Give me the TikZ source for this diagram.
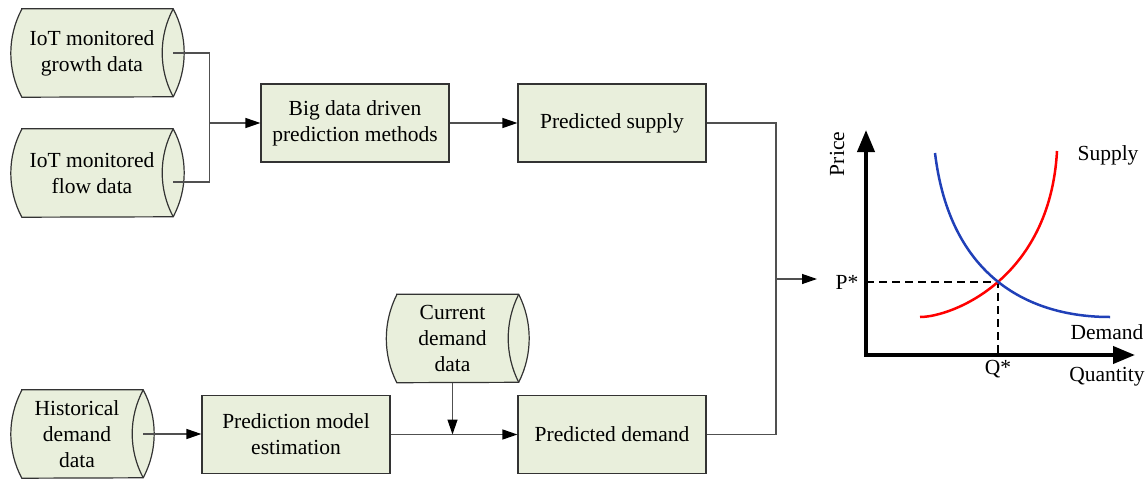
\documentclass[tikz,border=0pt]{standalone}
\usepackage{fontspec}
\setmainfont{Liberation Serif}
\usetikzlibrary{arrows.meta,calc,backgrounds}

\definecolor{boxfill}{HTML}{E9EFDC}
\definecolor{boxline}{HTML}{333333}
\definecolor{wirecol}{HTML}{505050}
\definecolor{demandblue}{HTML}{2040B8}

\tikzset{
  txt/.style={font=\fontsize{21.5}{26}\selectfont, align=center},
  stepbox/.style={txt, draw=boxline, fill=boxfill, line width=1.2pt,
    minimum width=188pt, minimum height=78pt, inner sep=0pt},
  store/.style={txt, inner sep=0pt, minimum height=88pt},
  wire/.style={draw=wirecol, line width=1.3pt},
  flow/.style={wire, -{Triangle[length=15pt,width=10pt,black]}},
  axisline/.style={line width=4pt,
    {Triangle[length=22pt,width=17pt]}-{Triangle[length=22pt,width=17pt]}},
  guide/.style={line width=1.1pt, dash pattern=on 8pt off 5pt},
  curve/.style={line width=2.5pt},
}

% Horizontal data-store drum (88pt high) around a text node:
% #1 node name, #2 bulge of the circular end caps
\newcommand{\drumoutline}[2]{%
  \pgfmathsetmacro\drumR{(44*44+#2*#2)/(2*#2)}%
  \pgfmathsetmacro\drumA{asin(44/\drumR)}%
  \filldraw[draw=boxline, fill=boxfill, line width=1.2pt]
    (#1.north west) -- ($(#1.north east)+(#2,0)$)
    arc[start angle=\drumA, end angle=-\drumA, radius=\drumR pt]
    -- (#1.south west)
    arc[start angle=180+\drumA, end angle=180-\drumA, radius=\drumR pt]
    -- cycle;
  \draw[draw=boxline, line width=1.2pt]
    ($(#1.north east)+(#2,0)$)
    arc[start angle=180-\drumA, end angle=180+\drumA, radius=\drumR pt];
}

\begin{document}
\begin{tikzpicture}[x=1pt, y=-1pt]
\useasboundingbox (0,0) rectangle (1148,479);

% data stores
\node[store, minimum width=140pt] (grow) at (92,53) {IoT monitored\\growth data};
\node[store, minimum width=140pt] (flowdata) at (92,173) {IoT monitored\\flow data};
\node[store, minimum width=110pt] (hist) at (77,434) {Historical\\demand\\data};
\node[store, minimum width=111pt] (cur) at (452.5,338.5) {Current\\demand\\data};

\begin{pgfonlayer}{background}
  \drumoutline{grow}{11}
  \drumoutline{flowdata}{11}
  \drumoutline{hist}{11}
  \drumoutline{cur}{10.5}
\end{pgfonlayer}

% processing steps
\node[stepbox] (big) at (355,123) {Big data driven\\prediction methods};
\node[stepbox] (sup) at (612,123) {Predicted supply};
\node[stepbox] (model) at (296,434.5) {Prediction model\\estimation};
\node[stepbox] (dem) at (612,434.5) {Predicted demand};

% connector points
\coordinate (growtap) at ($(grow.east)+(11,0)$);
\coordinate (flowtap) at ($(flowdata.east)+(11,9)$);
\coordinate (histtap) at ($(hist.east)+(11,0)$);
\coordinate (j1) at ($(big.west)+(-51,0)$);
\coordinate (j2) at (776,279);
\coordinate (pin) at (817,279);
\coordinate (merge) at (cur.south |- model.east);

% supply branch
\draw[wire] (growtap) -| (j1);
\draw[wire] (flowtap) -| (j1);
\draw[flow] (j1) -- (big.west);
\draw[flow] (big.east) -- (sup.west);

% demand branch
\draw[flow] (histtap) -- (histtap -| model.west);
\draw[flow] (model.east) -- (dem.west);
\draw[flow] (cur.south) -- (merge);

% both predictions feed the market
\draw[wire] (sup.east) -| (j2);
\draw[wire] (dem.east) -| (j2);
\draw[flow] (j2) -- (pin);

% supply-demand chart
\coordinate (O) at (866,355);
\coordinate (E) at (998,282);
\draw[axisline] (866,130) -- (O) -- (1135,355);
\draw[guide] (O |- E) -- (E) -- (E |- O);
\draw[curve, red] (920,317) .. controls (952,317) and (1050,279) .. (1057,151);
\draw[curve, demandblue] (935,153) .. controls (950,278) and (1030,317) .. (1110,317);

\node[txt, rotate=90] (price) at (837,154) {Price};
\node[txt] (pstar) at (847,282) {P*};
\node[txt] (qstar) at (998,369) {Q*};
\node[txt] (qty) at (1107,377) {Quantity};
\node[txt] (supl) at (1108,155) {Supply};
\node[txt] (deml) at (1107,332) {Demand};
\end{tikzpicture}
\end{document}
